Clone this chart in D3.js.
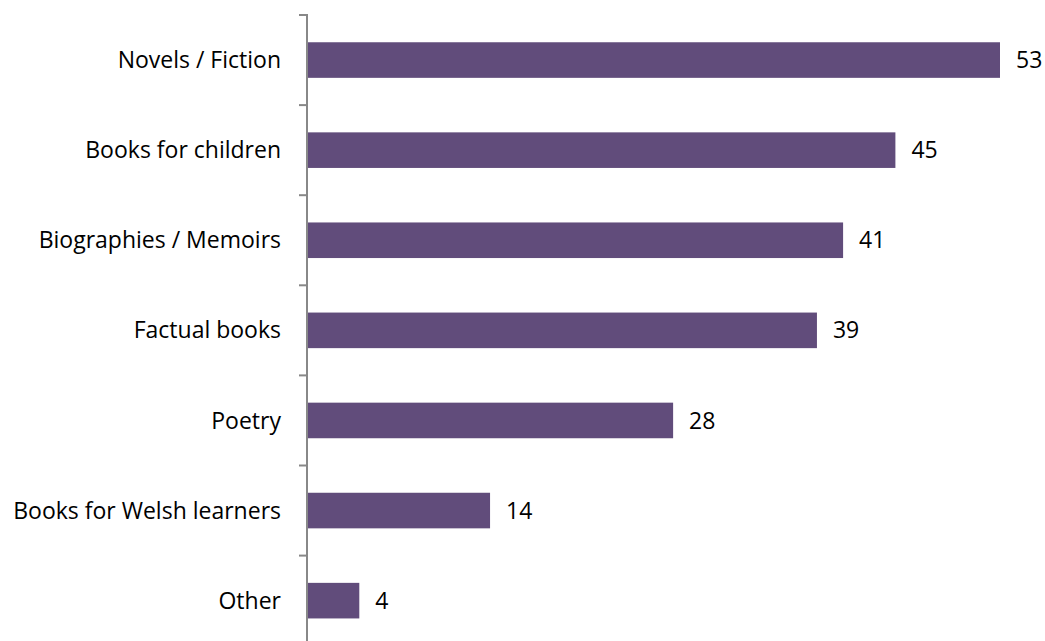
<!DOCTYPE html>
<html><head><meta charset="utf-8">
<script src="https://cdn.jsdelivr.net/npm/d3@7"></script>
<style>body{margin:0;background:#fff}svg{display:block}</style>
</head><body>
<svg id="c" width="1045" height="641"></svg>
<script>
const categories = ["Novels / Fiction","Books for children","Biographies / Memoirs","Factual books","Poetry","Books for Welsh learners","Other"];
const values = [53,45,41,39,28,14,4];

const svg = d3.select("#c");
const x0 = 307;
const x = d3.scaleLinear().domain([0,53]).range([x0, 1000]);
const y = d3.scaleBand().domain(categories).range([15, 645.7]).paddingInner(0.605).paddingOuter(0.3025);
const font = "'Open Sans', sans-serif";

svg.selectAll("rect.bar").data(categories).join("rect")
  .attr("class","bar")
  .attr("x", x0+1)
  .attr("y", d=>y(d))
  .attr("width", (d,i)=>x(values[i])-x0-1)
  .attr("height", y.bandwidth())
  .attr("fill","#614c7b");

// axis
const step = y.step();
const ticks = d3.range(categories.length+1).map(i=>15+i*step);
svg.append("line").attr("x1",x0).attr("x2",x0).attr("y1",14).attr("y2",660)
  .attr("stroke","#888").attr("stroke-width",2);
svg.selectAll("line.tick").data(ticks).join("line").attr("class","tick")
  .attr("x1",x0-8).attr("x2",x0).attr("y1",d=>d).attr("y2",d=>d)
  .attr("stroke","#888").attr("stroke-width",2);

svg.selectAll("text.cat").data(categories).join("text").attr("class","cat")
  .attr("x",281).attr("y",d=>y(d)+y.bandwidth()/2).attr("dy","0.35em")
  .attr("text-anchor","end").attr("font-family",font).attr("font-size",23).attr("fill","#000")
  .text(d=>d);

svg.selectAll("text.val").data(categories).join("text").attr("class","val")
  .attr("x",(d,i)=>x(values[i])+16).attr("y",d=>y(d)+y.bandwidth()/2).attr("dy","0.35em")
  .attr("font-family",font).attr("font-size",23).attr("fill","#000")
  .text((d,i)=>values[i]);
</script>
</body></html>
